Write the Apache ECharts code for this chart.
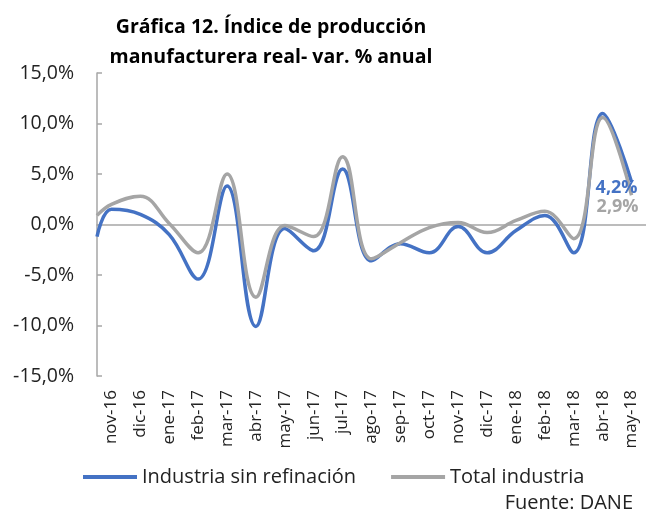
<!DOCTYPE html>
<html>
<head>
<meta charset="utf-8">
<script src="https://cdn.jsdelivr.net/npm/echarts@6/dist/echarts.min.js"></script>
<style>
  html, body { margin: 0; padding: 0; background: #fff; }
  #chart { width: 646px; height: 510px; }
</style>
</head>
<body>
<div id="chart"></div>
<script>
// meses (eje x)
var meses = ['nov-16','dic-16','ene-17','feb-17','mar-17','abr-17','may-17','jun-17','jul-17','ago-17',
             'sep-17','oct-17','nov-17','dic-17','ene-18','feb-18','mar-18','abr-18','may-18'];
// variación % anual
var sinRefinacion = [1.5, 1.0, -1.0, -5.4, 3.8, -10.1, -0.4, -2.6, 5.5, -3.6,
                     -1.9, -2.8, -0.2, -2.8, -0.6, 0.9, -2.8, 11.0, 4.2];
var totalIndustria = [2.0, 2.8, 0.1, -2.8, 5.0, -7.2, -0.1, -1.2, 6.7, -3.4,
                      -1.8, -0.3, 0.2, -0.8, 0.4, 1.3, -1.4, 10.6, 2.9];
// valor de cada serie en el borde izquierdo del área
var bordeSin = -1.2;
var bordeTotal = 0.9;
var yTicks = [-15, -10, -5, 0, 5, 10, 15];

var azul = '#4472C4';
var gris = '#A5A5A5';
var fuente = 'Open Sans';

function armarSerie(vals, borde){
  var d = [[0, borde]];
  for(var i=0;i<vals.length;i++){
    d.push([i + 0.5, vals[i]]);
  }
  return d;
}

function etiquetaFinal(data, offset, color){
  var last = data[data.length-1];
  data[data.length-1] = {
    value: last,
    label: {
      show: true,
      position: 'inside',
      offset: offset,
      color: color,
      fontFamily: fuente,
      fontWeight: 'bold',
      fontSize: 18,
      formatter: function(p){ return p.value[1].toFixed(1).replace('.', ',') + '%'; }
    }
  };
  return data;
}

var chart = echarts.init(document.getElementById('chart'));
var option = {
  animation: false,
  title: [{
    text: 'Gráfica 12. Índice de producción\nmanufacturera real- var. % anual',
    left: 266,
    top: 7,
    textAlign: 'center',
    textStyle: { fontFamily: fuente, fontWeight: 'bold', fontSize: 19.5, lineHeight: 30, color: '#000' }
  }, {
    text: 'Fuente: DANE',
    right: 8,
    top: 488,
    textStyle: { fontFamily: fuente, fontWeight: 'normal', fontSize: 20, color: '#222' }
  }],
  legend: {
    left: 83,
    top: 467,
    padding: 0,
    itemWidth: 54,
    itemHeight: 4,
    itemGap: 35,
    icon: 'rect',
    textStyle: { fontFamily: fuente, fontSize: 20, color: '#222' },
    data: ['Industria sin refinación', 'Total industria']
  },
  grid: { left: 97, right: -3, top: 73, bottom: 134 },
  xAxis: [{
    type: 'category',
    data: meses,
    boundaryGap: true,
    axisLine: { onZero: true, lineStyle: { color: '#A6A6A6', width: 1.5 } },
    axisTick: { inside: true, length: 5, lineStyle: { color: '#A6A6A6', width: 1.5 } },
    axisLabel: { show: false }
  }, {
    type: 'category',
    data: meses,
    boundaryGap: true,
    position: 'bottom',
    axisLine: { show: false, onZero: false },
    axisTick: { show: false },
    axisLabel: { rotate: 90, margin: 14, interval: 0, fontFamily: fuente, fontSize: 17, color: '#222' }
  }, {
    type: 'value',
    min: 0,
    max: meses.length,
    show: false
  }],
  yAxis: {
    type: 'value',
    min: yTicks[0],
    max: yTicks[yTicks.length-1],
    interval: 5,
    splitLine: { show: false },
    axisLine: { show: true, lineStyle: { color: '#A6A6A6', width: 1.5 } },
    axisTick: { show: true, inside: true, length: 5, lineStyle: { color: '#A6A6A6', width: 1.5 } },
    axisLabel: {
      margin: 23, fontFamily: fuente, fontSize: 19.5, color: '#222',
      formatter: function(v){ return v.toFixed(1).replace('.', ',') + '%'; }
    }
  },
  series: [{
    name: 'Industria sin refinación',
    type: 'line',
    xAxisIndex: 2,
    smooth: 0.4,
    showSymbol: true,
    symbolSize: 0,
    lineStyle: { color: azul, width: 3.5 },
    itemStyle: { color: azul },
    data: etiquetaFinal(armarSerie(sinRefinacion, bordeSin), [-15, 6], azul)
  }, {
    name: 'Total industria',
    type: 'line',
    xAxisIndex: 2,
    smooth: 0.4,
    showSymbol: true,
    symbolSize: 0,
    lineStyle: { color: gris, width: 3.5 },
    itemStyle: { color: gris },
    data: etiquetaFinal(armarSerie(totalIndustria, bordeTotal), [-14, 12], gris)
  }]
};
chart.setOption(option);
</script>
</body>
</html>
